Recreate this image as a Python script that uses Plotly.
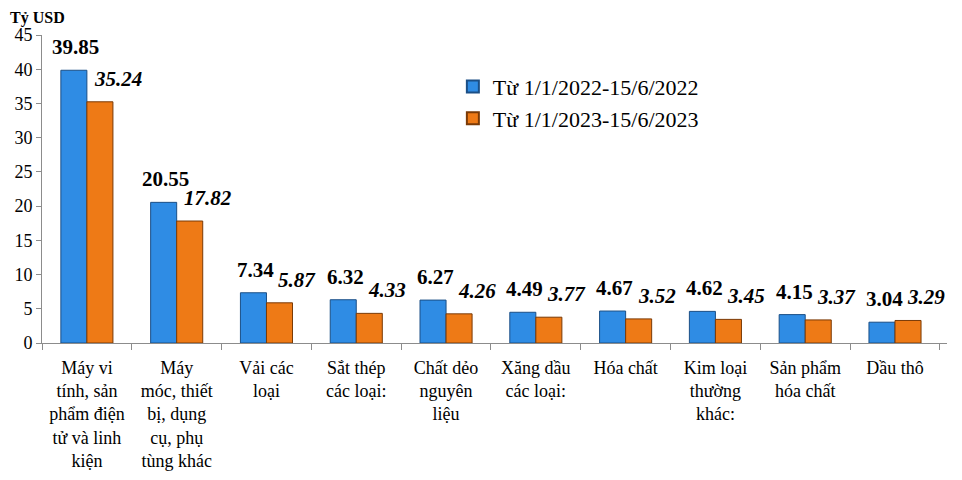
import plotly.graph_objects as go

categories = [
    "Máy vi<br>tính, sản<br>phẩm điện<br>tử và linh<br>kiện",
    "Máy<br>móc, thiết<br>bị, dụng<br>cụ, phụ<br>tùng khác",
    "Vải các<br>loại",
    "Sắt thép<br>các loại:",
    "Chất dẻo<br>nguyên<br>liệu",
    "Xăng dầu<br>các loại:",
    "Hóa chất",
    "Kim loại<br>thường<br>khác:",
    "Sản phẩm<br>hóa chất",
    "Dầu thô",
]
values_2022 = [39.85, 20.55, 7.34, 6.32, 6.27, 4.49, 4.67, 4.62, 4.15, 3.04]
values_2023 = [35.24, 17.82, 5.87, 4.33, 4.26, 3.77, 3.52, 3.45, 3.37, 3.29]
name_2022 = "Từ 1/1/2022-15/6/2022"
name_2023 = "Từ 1/1/2023-15/6/2023"
y_ticks = [0, 5, 10, 15, 20, 25, 30, 35, 40, 45]

serif = "Liberation Serif"
blue = "#2f8ce4"
orange = "#ee7a16"

fig = go.Figure()
fig.add_trace(go.Bar(
    x=categories, y=values_2022, name=name_2022,
    marker=dict(color=blue, line=dict(color="#1b4f86", width=1)),
))
fig.add_trace(go.Bar(
    x=categories, y=values_2023, name=name_2023,
    marker=dict(color=orange, line=dict(color="#7a3a06", width=1)),
))

# data labels: 2022 bold upright, 2023 bold italic shifted right
for cat, v in zip(categories, values_2022):
    fig.add_annotation(
        x=cat, y=v, text=f"{v:.2f}", showarrow=False, yanchor="bottom",
        xshift=-11, yshift=9,
        font=dict(family=serif, size=21, color="black", weight="bold"),
    )
for cat, v in zip(categories, values_2023):
    fig.add_annotation(
        x=cat, y=v, text=f"<i>{v:.2f}</i>", showarrow=False, yanchor="bottom",
        xshift=31, yshift=9,
        font=dict(family=serif, size=21, color="black", weight="bold"),
    )

fig.add_annotation(
    text="Tỷ USD", xref="paper", yref="paper", x=0, y=1,
    xanchor="left", yanchor="top", xshift=-33, yshift=27, borderpad=0,
    showarrow=False,
    font=dict(family=serif, size=16, color="black", weight="bold"),
)

fig.update_layout(
    width=962, height=480,
    margin=dict(l=34, r=23, t=27, b=145),
    paper_bgcolor="white", plot_bgcolor="white",
    barmode="group", bargap=0.42, bargroupgap=0.0,
    font=dict(family=serif, color="black"),
    showlegend=True,
    legend=dict(
        x=0.454, y=0.9, xanchor="left", yanchor="top",
        font=dict(family=serif, size=22, color="black"),
        bgcolor="rgba(0,0,0,0)", itemsizing="constant", tracegroupgap=0,
    ),
    xaxis=dict(
        automargin=False,
        showline=True, linecolor="#8c8c8c", linewidth=1,
        ticks="outside", ticklen=6, tickcolor="#8c8c8c", tickson="boundaries",
        tickfont=dict(family=serif, size=18, color="black"),
        tickangle=0, ticklabelstandoff=8,
    ),
    yaxis=dict(
        automargin=False,
        range=[0, 45], tickvals=y_ticks, showgrid=False, zeroline=False,
        showline=True, linecolor="#8c8c8c", linewidth=1,
        ticks="outside", ticklen=5, tickcolor="#8c8c8c",
        tickfont=dict(family=serif, size=18, color="black"),
    ),
)

fig.write_html("out.html")
